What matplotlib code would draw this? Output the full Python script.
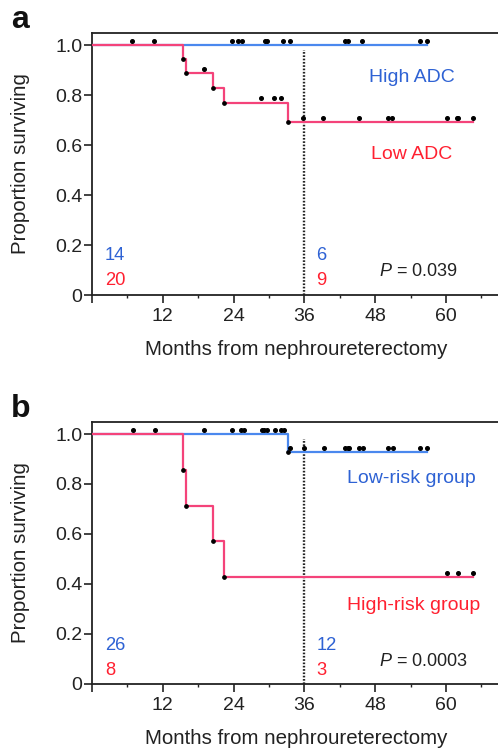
import matplotlib
matplotlib.use("Agg")
import matplotlib.pyplot as plt
import numpy as np
from matplotlib.transforms import ScaledTranslation

plt.rcParams['font.family'] = ['Liberation Sans', 'DejaVu Sans']
plt.rcParams['mathtext.fontset'] = 'custom'
plt.rcParams['mathtext.it'] = 'Liberation Sans:italic'
plt.rcParams['mathtext.rm'] = 'Liberation Sans'

# ---------------- data ----------------
# Panel a
a_high_event_times = []
a_high_levels = []
a_high_end = 56.7
a_high_censor = [6.8, 10.5, 23.7, 24.8, 25.4, 29.3, 29.7, 32.4, 33.5,
                 42.9, 43.4, 45.7, 55.6, 56.7]

a_low_event_times = [15.4, 15.95, 20.45, 22.4, 33.2]
a_low_levels = [0.944, 0.889, 0.830, 0.770, 0.693]
a_low_end = 64.6
a_low_censor = [18.9, 28.6, 30.9, 32.1, 35.8, 39.2, 45.3, 50.1, 50.8,
                60.1, 61.8, 62.1, 64.6]

# Panel b
b_low_event_times = [33.2]
b_low_levels = [0.929]
b_low_end = 56.8
b_low_censor = [6.9, 10.7, 19.0, 23.8, 25.2, 25.8, 28.8, 29.2, 29.7, 31.0,
                32.1, 32.5, 33.6, 36.0, 39.3, 42.9, 43.3, 43.6, 45.3, 45.9,
                50.2, 51.0, 55.6, 56.8]

b_high_event_times = [15.4, 16.0, 20.45, 22.4]
b_high_levels = [0.857, 0.714, 0.571, 0.429]
b_high_end = 64.6
b_high_censor = [60.1, 62.1, 64.6]

x_major = [0, 12, 24, 36, 48, 60]
x_major_labels = ['', '12', '24', '36', '48', '60']
x_minor = [6, 18, 30, 42, 54, 66]
y_ticks = [0, 0.2, 0.4, 0.6, 0.8, 1.0]
y_tick_labels = ['0', '0.2', '0.4', '0.6', '0.8', '1.0']

panel_a_risk = (['14', '6'], ['20', '9'])
panel_b_risk = (['26', '12'], ['8', '3'])

BLUE_LINE = '#4a88ee'
RED_LINE = '#f4437a'
BLUE_TXT = '#2e62d4'
RED_TXT = '#ff2030'

W, H = 498, 750
fig = plt.figure(figsize=(W / 100, H / 100), dpi=100)

TICK_FS = 14
AX_FS = 14.8
GRP_FS = 14
NUM_FS = 13.2
P_FS = 13


def px_axes(left, top, right, bottom):
    return fig.add_axes([left / W, 1 - bottom / H, (right - left) / W, (bottom - top) / H])


def step_level(t, times, levels):
    idx = np.searchsorted(np.asarray(times), t, side='right')
    return 1.0 if idx == 0 else levels[idx - 1]


def draw_curve(ax, times, levels, end, censor, color):
    xs = [0] + list(times) + [end]
    ys = [1.0] + list(levels) + [levels[-1] if levels else 1.0]
    ax.step(xs, ys, where='post', color=color, lw=1.6, zorder=3)
    if times:
        ax.plot(times, levels, 'o', color='black', ms=2.4, zorder=4)
    off = ScaledTranslation(0, 3.0 / 72, fig.dpi_scale_trans)
    cy = [step_level(t, times, levels) for t in censor]
    ax.plot(censor, cy, 'o', color='black', ms=2.6, zorder=4,
            transform=ax.transData + off)


def style_axes(ax):
    ax.set_xlim(0, 68.8)
    ax.set_ylim(0, 1.048)
    ax.spines['right'].set_visible(False)
    for s in ['left', 'bottom', 'top']:
        ax.spines[s].set_linewidth(1.3)
        ax.spines[s].set_color('#222222')
    ax.set_xticks(x_major)
    ax.set_xticklabels(x_major_labels)
    ax.set_xticks(x_minor, minor=True)
    ax.set_yticks(y_ticks)
    ax.set_yticklabels(y_tick_labels)
    ax.tick_params(axis='both', which='major', direction='out', length=5.5,
                   width=1.2, color='#222222', labelsize=TICK_FS, labelcolor='#222222')
    ax.tick_params(axis='x', which='major', pad=4.0)
    ax.tick_params(axis='y', which='major', pad=1.5)
    ax.tick_params(axis='x', which='minor', direction='out', length=2.5,
                   width=1.0, color='#222222')
    ax.tick_params(axis='y', which='minor', left=False)
    ax.plot([36, 36], [0, 0.98], color='#222222', lw=1.7,
            linestyle=(0, (0.7, 0.7)), zorder=2)


# ---------------- panel a ----------------
ax1 = px_axes(92, 33, 498, 295)
style_axes(ax1)
draw_curve(ax1, a_high_event_times, a_high_levels, a_high_end, a_high_censor, BLUE_LINE)
draw_curve(ax1, a_low_event_times, a_low_levels, a_low_end, a_low_censor, RED_LINE)
ax1.text(54.2, 0.851, 'High ADC', color=BLUE_TXT, fontsize=GRP_FS, ha='center', va='baseline')
ax1.text(54.1, 0.544, 'Low ADC', color=RED_TXT, fontsize=GRP_FS, ha='center', va='baseline')
ax1.text(2.2, 0.141, panel_a_risk[0][0], color=BLUE_TXT, fontsize=NUM_FS, ha='left', va='baseline')
ax1.text(2.2, 0.041, panel_a_risk[1][0], color=RED_TXT, fontsize=NUM_FS, ha='left', va='baseline')
ax1.text(38.0, 0.141, panel_a_risk[0][1], color=BLUE_TXT, fontsize=NUM_FS, ha='left', va='baseline')
ax1.text(38.0, 0.041, panel_a_risk[1][1], color=RED_TXT, fontsize=NUM_FS, ha='left', va='baseline')
ax1.text(55.3, 0.078, r'$\it{P}$ = 0.039', color='#222222', fontsize=P_FS, ha='center', va='baseline')

# ---------------- panel b ----------------
ax2 = px_axes(92, 422, 498, 684)
style_axes(ax2)
draw_curve(ax2, b_low_event_times, b_low_levels, b_low_end, b_low_censor, BLUE_LINE)
draw_curve(ax2, b_high_event_times, b_high_levels, b_high_end, b_high_censor, RED_LINE)
ax2.text(54.2, 0.803, 'Low-risk group', color=BLUE_TXT, fontsize=GRP_FS, ha='center', va='baseline')
ax2.text(54.5, 0.296, 'High-risk group', color=RED_TXT, fontsize=GRP_FS, ha='center', va='baseline')
ax2.text(2.2, 0.136, panel_b_risk[0][0], color=BLUE_TXT, fontsize=NUM_FS, ha='left', va='baseline')
ax2.text(2.2, 0.036, panel_b_risk[1][0], color=RED_TXT, fontsize=NUM_FS, ha='left', va='baseline')
ax2.text(38.0, 0.136, panel_b_risk[0][1], color=BLUE_TXT, fontsize=NUM_FS, ha='left', va='baseline')
ax2.text(38.0, 0.036, panel_b_risk[1][1], color=RED_TXT, fontsize=NUM_FS, ha='left', va='baseline')
ax2.text(56.2, 0.072, r'$\it{P}$ = 0.0003', color='#222222', fontsize=P_FS, ha='center', va='baseline')

# ---------------- labels ----------------
for ax, top, bot in [(ax1, 33, 295), (ax2, 422, 684)]:
    fig.text(21 / W, 1 - ((top + bot) / 2) / H, 'Proportion surviving', rotation=90,
             ha='center', va='center', fontsize=AX_FS, color='#222222')
    fig.text(296.5 / W, 1 - (bot + 60) / H, 'Months from nephroureterectomy',
             ha='center', va='baseline', fontsize=AX_FS, color='#222222')

fig.text(11 / W, 1 - 28 / H, 'a', fontsize=23, fontweight='bold',
         ha='left', va='baseline', color='#111111')
fig.text(11 / W, 1 - 417 / H, 'b', fontsize=23, fontweight='bold',
         ha='left', va='baseline', color='#111111')

fig.savefig('out.png', dpi=100)
